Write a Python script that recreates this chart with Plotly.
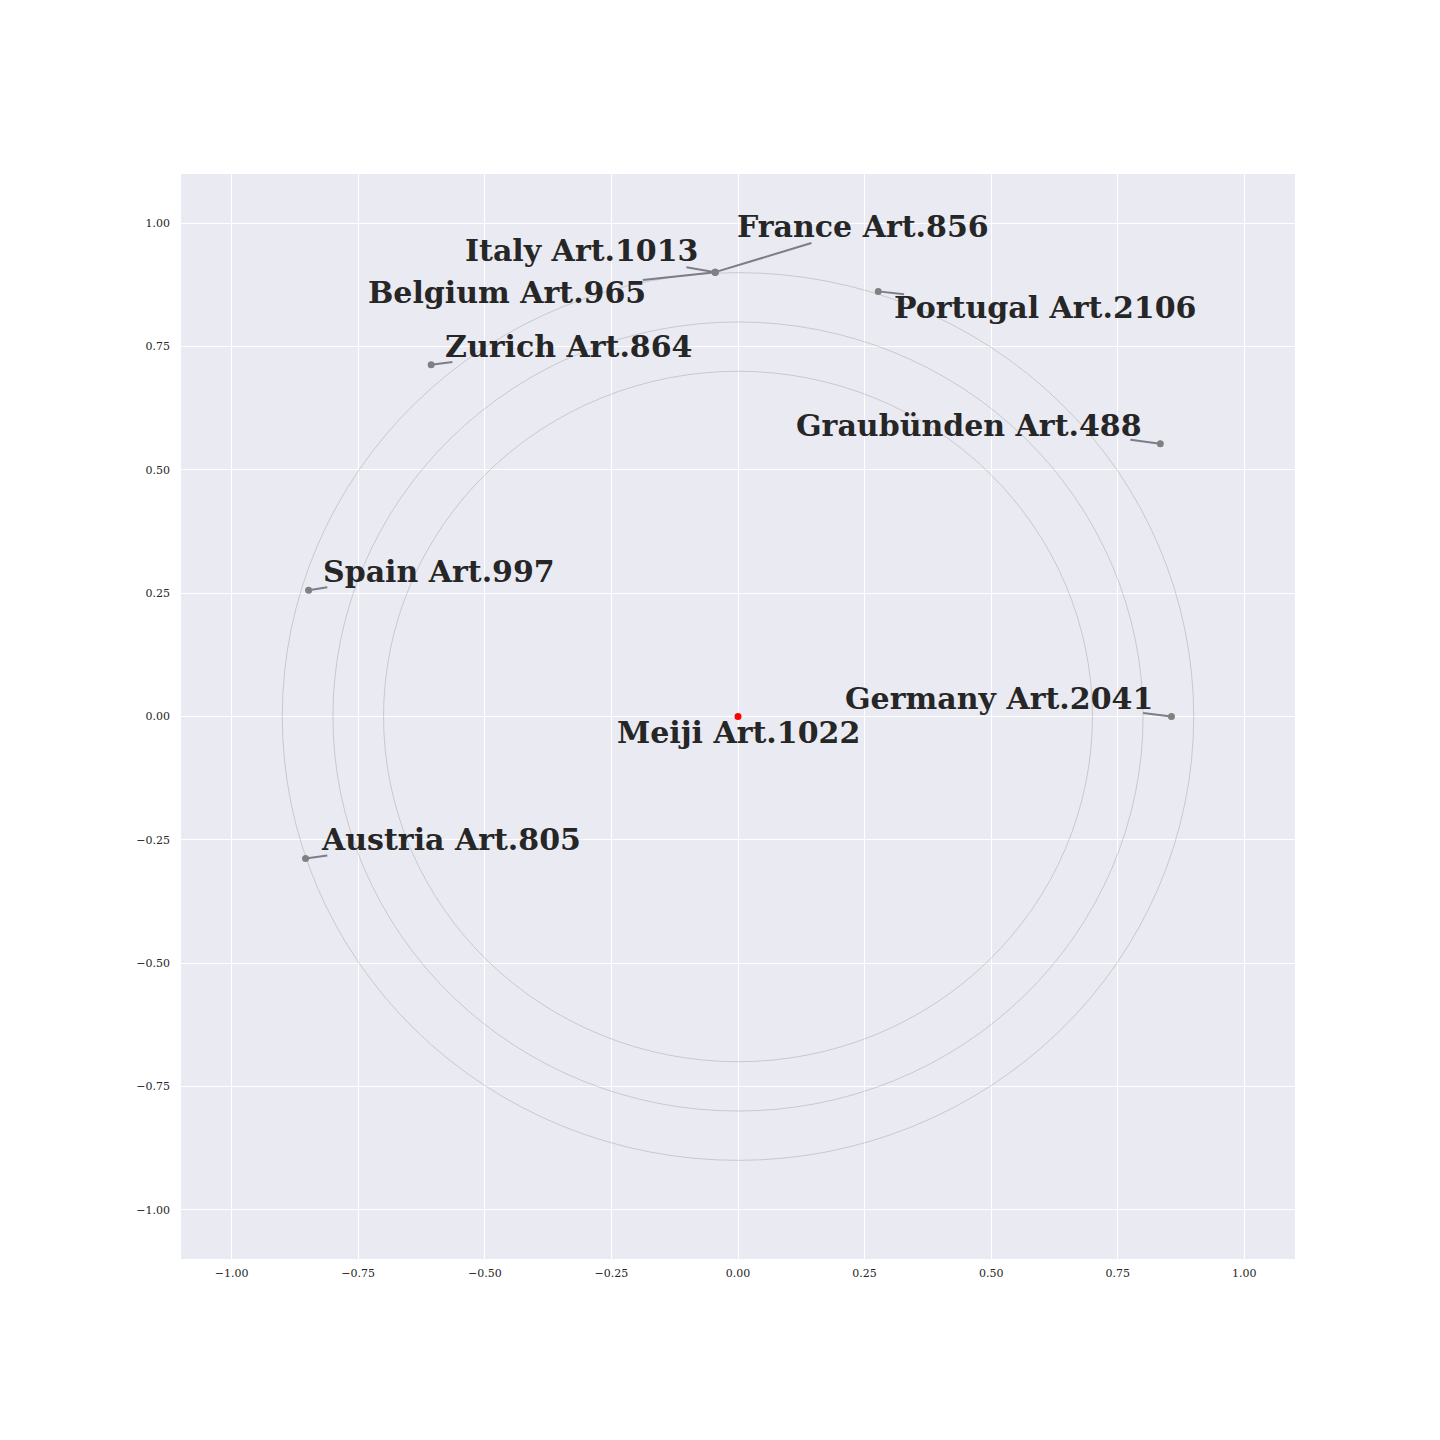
import plotly.graph_objects as go

# Data
names = ["France", "Italy", "Belgium", "Portugal", "Zurich", "Graubünden",
         "Spain", "Germany", "Austria"]
articles = [856, 1013, 965, 2106, 864, 488, 997, 2041, 805]
px_ = [-0.045, -0.045, -0.045, 0.277, -0.606, 0.834, -0.848, 0.856, -0.854]
py_ = [0.901, 0.901, 0.901, 0.862, 0.713, 0.553, 0.256, 0.0, -0.288]
center_name = "Meiji"
center_article = 1022
center_xy = [0.0, 0.0]
radii = [0.7, 0.8, 0.9]

# Label placement (as adjusted in the reference)
lbl_x = [-0.005, -0.076, -0.177, 0.305, -0.582, 0.801, -0.824, 0.824, -0.828]
lbl_y = [0.994, 0.945, 0.860, 0.830, 0.751, 0.591, 0.295, 0.037, -0.250]
lbl_anchor = ["left", "right", "right", "left", "left", "right", "left", "right", "left"]
line_end_x = [0.145, -0.102, -0.188, 0.328, -0.564, 0.775, -0.811, 0.800, -0.811]
line_end_y = [0.960, 0.911, 0.885, 0.856, 0.719, 0.561, 0.262, 0.007, -0.282]
center_lbl_xy = [0.0, -0.033]

TXT = "#262626"
FONT = "DejaVu Serif"
FS = 30

fig = go.Figure()

shapes = []
for r in radii:
    shapes.append(dict(type="circle", xref="x", yref="y", x0=-r, y0=-r, x1=r, y1=r,
                       line=dict(color="rgba(128,128,128,0.65)", width=0.5), layer="above"))

# connector lines
lx, ly = [], []
for i in range(len(names)):
    lx += [px_[i], line_end_x[i], None]
    ly += [py_[i], line_end_y[i], None]
fig.add_trace(go.Scatter(x=lx, y=ly, mode="lines", line=dict(color="#7b7e88", width=2),
                         hoverinfo="skip", showlegend=False))

fig.add_trace(go.Scatter(x=px_, y=py_, mode="markers",
                         marker=dict(color="#808080", size=7), showlegend=False,
                         text=names))
fig.add_trace(go.Scatter(x=[center_xy[0]], y=[center_xy[1]], mode="markers",
                         marker=dict(color="red", size=7), showlegend=False))

annotations = []
for i, n in enumerate(names):
    annotations.append(dict(x=lbl_x[i], y=lbl_y[i], xref="x", yref="y",
                            text=f"<b>{n} Art.{articles[i]}</b>", showarrow=False,
                            xanchor=lbl_anchor[i], yanchor="middle",
                            font=dict(family=FONT, size=FS, color=TXT)))
annotations.append(dict(x=center_lbl_xy[0], y=center_lbl_xy[1], xref="x", yref="y",
                        text=f"<b>{center_name} Art.{center_article}</b>", showarrow=False,
                        xanchor="center", yanchor="middle",
                        font=dict(family=FONT, size=FS, color=TXT)))

ticks = [-1.0, -0.75, -0.5, -0.25, 0.0, 0.25, 0.5, 0.75, 1.0]
ticktext = [f"{t:.2f}".replace("-", "\u2212") for t in ticks]

axis_common = dict(range=[-1.1, 1.1], tickvals=ticks, ticktext=ticktext,
                   showgrid=True, gridcolor="white", gridwidth=1, zeroline=False,
                   showline=False, ticks="",
                   tickfont=dict(family=FONT, size=11, color=TXT))

fig.update_layout(
    width=1440, height=1440,
    margin=dict(l=173, r=153, t=166, b=189),
    paper_bgcolor="white", plot_bgcolor="#EAEAF2",
    xaxis=dict(**axis_common, ticklabelstandoff=6),
    yaxis=dict(**axis_common, ticklabelstandoff=10),
    shapes=shapes, annotations=annotations, showlegend=False,
)

fig.write_html("out.html")
